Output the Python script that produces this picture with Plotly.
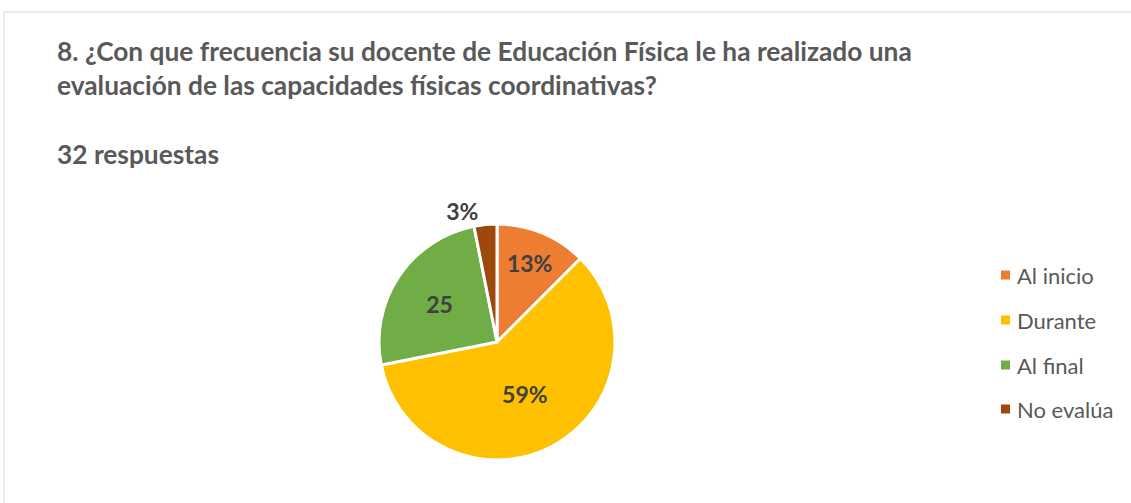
import plotly.graph_objects as go

categories = ["Al inicio", "Durante", "Al final", "No evalúa"]
counts = [4, 19, 8, 1]
label_text = ["13%", "59%", "25", "3%"]
colors = ["#ED7D31", "#FFC000", "#70AD47", "#9E480E"]

W, H = 1131, 503
FONT = "Lato"

fig = go.Figure()
cx, cy, r = 497, 342, 118
fig.add_trace(go.Pie(
    labels=categories, values=counts, text=label_text,
    texttemplate="%{text}", textinfo="text",
    textposition=["inside", "inside", "inside", "outside"],
    insidetextorientation="horizontal",
    sort=False, direction="clockwise", rotation=0,
    marker=dict(colors=colors, line=dict(color="white", width=3)),
    textfont=dict(family=FONT, size=23, color="#404040", weight="bold"),
    insidetextfont=dict(family=FONT, size=23, color="#404040", weight="bold"),
    outsidetextfont=dict(family=FONT, size=23, color="#404040", weight="bold"),
    domain=dict(x=[(cx - r) / W, (cx + r) / W], y=[(H - cy - r) / H, (H - cy + r) / H]),
    showlegend=False, hoverinfo="label+value+percent",
))

# chart frame
fig.add_shape(type="rect", xref="paper", yref="paper",
              x0=4 / W, x1=1.05, y0=-0.05, y1=(H - 12) / H,
              line=dict(color="#D9D9D9", width=1), layer="below")

annotations = [
    dict(text="<b>8. ¿Con que frecuencia su docente de Educación Física le ha realizado una<br>evaluación de las capacidades físicas coordinativas?</b>",
         x=55 / W, y=(H - 33) / H, xanchor="left", yanchor="top", align="left",
         font=dict(family=FONT, size=26.3, color="#595959")),
    dict(text="<b>32 respuestas</b>", x=55 / W, y=(H - 136) / H, xanchor="left", yanchor="top",
         align="left", font=dict(family=FONT, size=26.3, color="#595959")),
]
shapes = []
leg_y = [275, 320, 365, 409]
for cat, col, ly in zip(categories, colors, leg_y):
    shapes.append(dict(type="rect", xref="paper", yref="paper",
                       x0=1001 / W, x1=1010 / W, y0=(H - ly - 4.5) / H, y1=(H - ly + 4.5) / H,
                       fillcolor=col, line=dict(width=0)))
    annotations.append(dict(text=cat, x=1015 / W, y=(H - ly) / H, xanchor="left", yanchor="middle",
                            showarrow=False, font=dict(family=FONT, size=22, color="#595959")))
for a in annotations:
    a["showarrow"] = False
    a["xref"] = "paper"
    a["yref"] = "paper"

fig.update_layout(
    width=W, height=H, margin=dict(l=0, r=0, t=0, b=0),
    paper_bgcolor="white", plot_bgcolor="white",
    annotations=annotations, shapes=list(fig.layout.shapes) + shapes,
)
fig.write_html("out.html", config={"displayModeBar": False},
               post_script="document.body.style.margin='0';document.body.style.padding='0';")
